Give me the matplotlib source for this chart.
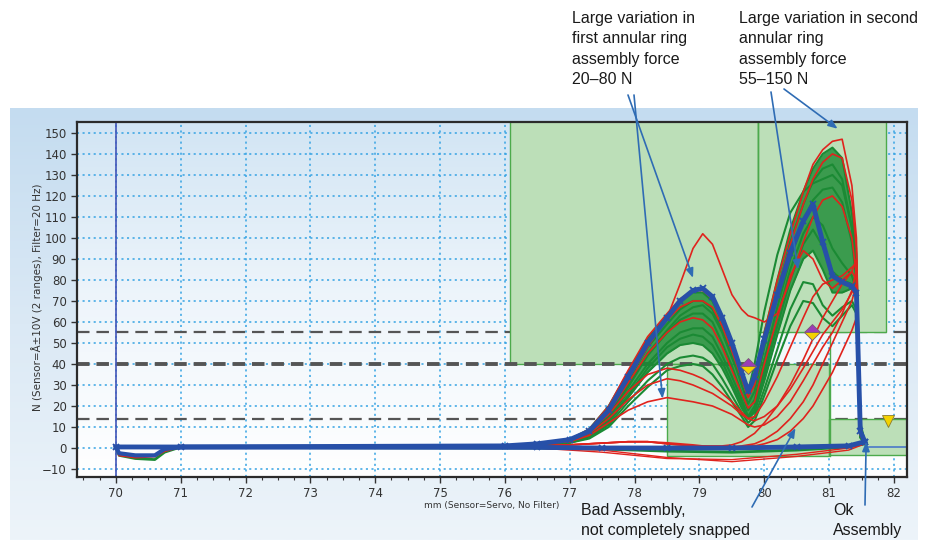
import numpy as np
import matplotlib
matplotlib.use("Agg")
import matplotlib.pyplot as plt
from matplotlib.patches import Rectangle
from matplotlib.colors import LinearSegmentedColormap

plt.rcParams["lines.scale_dashes"] = False

# forward stroke: shared x positions (mm)
x_fwd = [71.0, 76.0, 76.5, 77.0, 77.3, 77.6, 77.9, 78.2, 78.5, 78.7, 78.9, 79.05, 79.2, 79.35, 79.5,
         79.65, 79.75, 79.85, 80.0, 80.2, 80.4, 80.6, 80.75, 80.9, 81.05, 81.2, 81.35, 81.42, 81.48, 81.55]

# reference (blue) curve, force in N
blue_fwd = [0.5, 1, 2, 4, 8, 18, 34, 50, 62, 70, 75, 76, 72, 62, 50, 36, 27, 34, 52, 73, 93, 108, 116, 98, 82, 79, 77, 74, 8, 3]

# good assemblies (green)
green_1 = [0.5, 1, 2, 4, 9, 20, 36, 52, 63, 70, 74, 74, 70, 60, 48, 34, 26, 33, 55, 80, 104, 122, 133, 140, 143, 138, 112, 92, 12, 3]
green_2 = [0.5, 1, 2, 3, 7, 17, 32, 48, 59, 66, 70, 70, 66, 56, 44, 30, 21, 27, 48, 74, 98, 116, 127, 133, 135, 128, 105, 85, 10, 3]
green_3 = [0.5, 1, 2, 3, 6, 15, 29, 44, 55, 61, 64, 64, 60, 50, 39, 26, 18, 23, 42, 67, 90, 108, 118, 123, 124, 117, 98, 80, 8, 2]
green_4 = [0.5, 1, 1.5, 3, 6, 14, 27, 40, 50, 55, 57, 57, 53, 44, 34, 23, 15, 20, 38, 62, 85, 102, 110, 106, 95, 88, 82, 75, 7, 2]
green_5 = [0.5, 1, 1.5, 3, 5, 12, 24, 36, 45, 49, 50, 49, 45, 38, 29, 19, 14, 17, 32, 54, 75, 90, 94, 85, 74, 74, 76, 72, 6, 2]
green_6 = [0.5, 1, 1.5, 2.5, 5, 11, 22, 32, 40, 43, 44, 43, 40, 33, 25, 17, 12, 15, 28, 47, 66, 79, 78, 68, 63, 67, 70, 66, 5, 2]
green_7 = [0.5, 1, 1.5, 2.5, 4.5, 10, 20, 29, 37, 39, 40, 39, 35, 29, 22, 15, 10, 13, 25, 42, 58, 70, 69, 62, 58, 63, 68, 64, 5, 2]
green_8 = [0.5, 1, 2, 3.5, 7, 16, 30, 45, 56, 63, 67, 68, 64, 55, 43, 32, 27, 40, 65, 92, 112, 122, 126, 128, 130, 125, 105, 85, 8, 3]
green_9 = [0.5, 1, 1.5, 3, 5.5, 13, 25, 38, 48, 52, 54, 53, 49, 41, 31, 21, 14, 18, 35, 58, 80, 97, 104, 96, 84, 80, 78, 72, 6, 2]

# bad assemblies (red)
red_1 = [0.5, 1, 2, 4, 9, 20, 37, 53, 64, 71, 75, 75, 71, 61, 49, 36, 27, 33, 55, 80, 102, 122, 135, 142, 146, 147, 125, 100, 10, 3]
red_2 = [0.5, 1, 2, 4, 8, 18, 34, 50, 61, 67, 70, 70, 67, 58, 46, 33, 24, 30, 50, 75, 97, 116, 128, 136, 140, 138, 118, 95, 8, 3]
red_3 = [0.5, 1, 2, 4, 8, 18, 33, 48, 62, 78, 95, 102, 97, 85, 73, 66, 63, 62, 60, 64, 80, 98, 110, 118, 120, 115, 100, 82, 8, 3]
red_4 = [0.5, 1, 2, 3, 6, 12, 18, 22, 24, 23, 22, 21, 20, 18, 16, 13, 11, 10, 11, 15, 22, 32, 40, 48, 55, 64, 75, 85, 8, 2]
red_5 = [0.5, 1, 2, 3.5, 7, 14, 23, 30, 33, 32, 30, 28, 26, 23, 20, 16, 14, 13, 15, 20, 28, 38, 46, 54, 60, 66, 74, 78, 7, 2]
red_6 = [0.5, 1, 1, 1.5, 2, 2.5, 3, 3, 2, 1.5, 1, 1, 0.5, 0.5, 0.5, 1, 1.5, 2, 4, 8, 14, 22, 30, 40, 50, 60, 70, 78, 7, 2]
red_7 = [0.5, 1, 1, 1.5, 2, 2.5, 3, 3, 2, 1.5, 1, 0.5, 0.5, 0.5, 0.5, 0.5, 1, 1, 2, 4, 8, 14, 20, 28, 36, 46, 56, 62, 6, 2]
red_8 = [0.5, 1, 2, 4, 8, 16, 27, 35, 38, 37, 35, 33, 30, 26, 22, 17, 14, 15, 22, 34, 48, 62, 72, 78, 80, 82, 86, 88, 8, 2]
red_9 = [0.5, 1, 1, 1.5, 2, 2.5, 3, 3, 2.5, 2, 1.5, 1, 1, 1, 1.5, 3, 5, 7, 12, 20, 30, 42, 52, 62, 70, 78, 84, 90, 8, 2]
red_10 = [0.5, 1, 2, 4, 8, 17, 31, 45, 55, 60, 62, 61, 57, 48, 37, 26, 19, 22, 40, 62, 82, 94, 90, 80, 76, 80, 84, 80, 7, 2]

# start loop near 70 mm
x_loop = [70.0, 70.05, 70.3, 70.6, 70.75, 71.0]
loop_blue = [0.5, -2.5, -3.5, -3.5, -0.5, 0.5]
loop_green = [0.5, -3.5, -5, -5.5, -2, 0.5]
loop_red = [0.5, -3.5, -4.5, -4, -1.5, 0.5]

# return stroke
x_ret = [81.55, 81.3, 80.5, 79.5, 78.5, 77.5, 76.5, 70.0]
ret_blue = [3, 1, 0.5, 0, 0, 0, 0.3, 0.5]
ret_green = [2, 0.5, -1, -2, -1.5, -0.5, 0, 0.3]
ret_red_1 = [2, 0, -3, -5.5, -5, -2, 0, 0.3]
ret_red_2 = [2, -1, -4, -6.5, -4.5, -1, 0, 0.3]

# evaluation windows (green boxes)
box_x0 = [76.07, 79.9, 78.5, 81.0]
box_x1 = [79.9, 81.87, 81.0, 82.4]
box_y0 = [40, 55, -4, -3.5]
box_y1 = [160, 160, 40, 14]

limit_y = [55, 40, 14]

diamond_x = [79.75, 80.73]
diamond_y = [39, 55]
tri_x = [81.9]
tri_y = [13]

greens = [green_7, green_6, green_5, green_9, green_4, green_3, green_8, green_2, green_1]
reds = [red_4, red_5, red_6, red_7, red_9, red_8, red_10, red_3, red_2, red_1]

W, H = 945, 540


def px(x, y):
    return (x / W, 1 - y / H)


fig = plt.figure(figsize=(9.45, 5.4), dpi=100)

# outer light-blue panel
panel = fig.add_axes([10 / W, 0, 908 / W, 432 / H], zorder=-10)
panel_cmap = LinearSegmentedColormap.from_list("panel", ["#edf4fa", "#dbe9f5", "#c4dcf0"])
panel.imshow(np.linspace(0, 1, 256).reshape(-1, 1), aspect="auto", cmap=panel_cmap,
             extent=[0, 1, 0, 1], origin="lower")
panel.axis("off")

ax = fig.add_axes([77 / W, 63 / H, 830 / W, 355 / H])
xlim = (69.4, 82.2)
ylim = (-13.8, 155.2)
plot_cmap = LinearSegmentedColormap.from_list("plotbg", ["#ffffff", "#eef5fb", "#d2e5f4"])
ax.imshow(np.linspace(0, 1, 256).reshape(-1, 1), aspect="auto", cmap=plot_cmap,
          extent=[xlim[0], xlim[1], ylim[0], ylim[1]], origin="lower", zorder=0)
ax.set_axisbelow(True)
ax.grid(True, which="major", color="#35a3e3", linestyle=(0, (1.5, 2.5)), lw=1.1)

# dashed limit lines
ax.axhline(limit_y[0], color="#555555", lw=1.6, dashes=(9, 5), zorder=1.2)
ax.axhline(limit_y[2], color="#555555", lw=1.6, dashes=(9, 5), zorder=1.2)

for x0, x1, y0, y1 in zip(box_x0, box_x1, box_y0, box_y1):
    ax.add_patch(Rectangle((x0, y0), x1 - x0, y1 - y0, facecolor="#bcdfb8",
                           edgecolor="#4caa4c", lw=1.0, zorder=2))
ax.plot([79.9, 79.9], [40, 160], color="#4caa4c", lw=1.0, zorder=2.1)
ax.plot([81.02, 81.02], [-4, 55], color="#4caa4c", lw=1.0, zorder=2.1)
ax.axhline(limit_y[1], color="#555555", lw=2.8, dashes=(9, 5), zorder=2.5)

ax.axvline(70.0, color="#4456b8", lw=1.2, zorder=2.6)
ax.plot([81.6, 82.3], [0.5, 0.5], color="#4a78c8", lw=1.2, zorder=2.6)

# curves
green_c = "#1b8a34"
red_c = "#e0231d"
blue_c = "#2750a8"
ax.fill_between(x_fwd, green_5, green_1, color=green_c, alpha=0.8, lw=0, zorder=3)
for g in greens:
    ax.plot(x_fwd, g, color=green_c, lw=1.5, zorder=3.2, solid_joinstyle="round")
ax.plot(x_loop, loop_green, color=green_c, lw=2, zorder=3.2)
ax.plot(x_ret, ret_green, color=green_c, lw=2, zorder=3.2)
for r in reds:
    ax.plot(x_fwd, r, color=red_c, lw=1.2, zorder=3.4, solid_joinstyle="round")
ax.plot(x_loop, loop_red, color=red_c, lw=1.5, zorder=3.4)
ax.plot(x_ret, ret_red_1, color=red_c, lw=1.0, zorder=3.4)
ax.plot(x_ret, ret_red_2, color=red_c, lw=1.0, zorder=3.4)

ax.plot(x_fwd, blue_fwd, color=blue_c, lw=3.5, marker="x", ms=5, mew=1.3, zorder=4,
        solid_joinstyle="round")
ax.plot(x_loop, loop_blue, color=blue_c, lw=3, zorder=4)
ax.plot(x_ret, ret_blue, color=blue_c, lw=3.5, marker="x", ms=5, mew=1.3, zorder=4)

for dx, dy in zip(diamond_x, diamond_y):
    ax.plot(dx, dy, marker="D", ms=8, fillstyle="top", markerfacecolor="#9a3db8",
            markerfacecoloralt="#f3d200", markeredgecolor="#7a5a70", mew=0.6, zorder=5)
ax.plot(tri_x, tri_y, marker="v", ms=8, color="#f3d200", markeredgecolor="#8a7a30",
        mew=0.6, ls="none", zorder=5)

ax.set_xlim(*xlim)
ax.set_ylim(*ylim)
ax.set_xticks(range(70, 83))
ax.set_xticks(np.arange(69.5, 82.25, 0.25), minor=True)
ax.set_yticks(range(-10, 151, 10))
ax.tick_params(axis="both", which="major", direction="out", length=4, width=1,
               color="#333333", labelcolor="#333333", labelsize=8.5)
ax.tick_params(axis="x", which="minor", direction="out", length=2.5, width=0.8, color="#333333")
for s in ax.spines.values():
    s.set_color("#2b2b2b")
    s.set_linewidth(1.6)
    s.set_zorder(6)

ax.set_ylabel("N (Sensor=Å±10V (2 ranges), Filter=20 Hz)", fontsize=7.5,
              family=["DejaVu Sans Condensed", "DejaVu Sans"], color="#333333")
ax.yaxis.set_label_coords(-0.041, 0.506)
ax.set_xlabel("mm (Sensor=Servo, No Filter)", fontsize=6.5,
              family=["DejaVu Sans Condensed", "DejaVu Sans"], color="#333333")
ax.xaxis.set_label_coords(0.5, -0.068)

# annotations
txt_kw = dict(fontsize=11.5, family=["Liberation Sans", "DejaVu Sans"], color="#1a1a1a",
              va="top", ha="left", linespacing=1.45)
fig.text(*px(572, 11), "Large variation in\nfirst annular ring\nassembly force\n20–80 N", **txt_kw)
fig.text(*px(739, 11), "Large variation in second\nannular ring\nassembly force\n55–150 N", **txt_kw)
fig.text(*px(581, 503), "Bad Assembly,\nnot completely snapped", **txt_kw)
fig.text(*px(833, 503), "Ok\nAssembly", **txt_kw)

arrow_kw = dict(arrowstyle="-|>,head_length=0.55,head_width=0.22", color="#2f6cb4",
                lw=1.2, shrinkA=0, shrinkB=0)
arrow_targets = [(78.9, 81), (78.43, 23.5), (80.52, 85), (81.13, 152), (80.48, 9.5), (81.57, 3)]
arrow_starts = [(628, 95), (634, 95), (771, 92), (784, 89), (752, 507), (865, 505)]
for tgt, st in zip(arrow_targets, arrow_starts):
    ax.annotate("", xy=tgt, xycoords="data", xytext=px(*st), textcoords="figure fraction",
                arrowprops=arrow_kw, annotation_clip=False, zorder=7)

fig.savefig("out.png", dpi=100)
